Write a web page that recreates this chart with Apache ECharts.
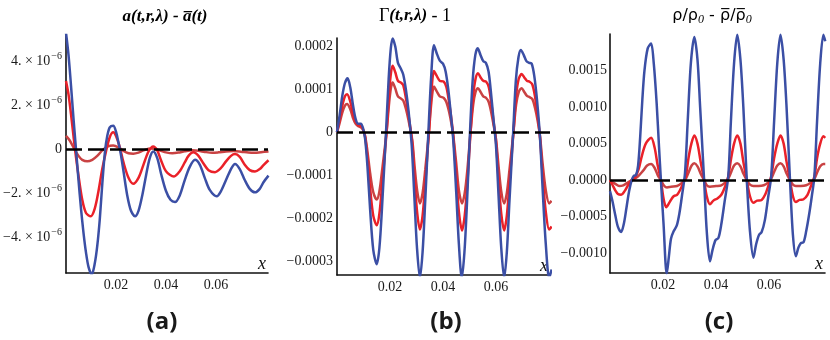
<!DOCTYPE html>
<html><head><meta charset="utf-8">
<script src="https://cdn.jsdelivr.net/npm/echarts@6/dist/echarts.min.js"></script>
<style>html,body{margin:0;padding:0;background:#fff}#c{width:830px;height:340px}</style>
</head><body><div id="c"></div>
<script>
// ---------- tick labels ----------
const xTicks = [0.02, 0.04, 0.06];
const aYTicks = [-4e-6, -2e-6, 0, 2e-6, 4e-6];
const bYTicks = [-0.0003, -0.0002, -0.0001, 0, 0.0001, 0.0002];
const cYTicks = [-0.001, -0.0005, 0, 0.0005, 0.001, 0.0015];

// ---------- panel (a): values in units of 1e-6 ----------
const aUnit = 1e-6;
const aBlue = [[0,5.3],[0.001,4.3],[0.002,2.9],[0.003,1.4],[0.004,0],[0.005,-1.4],[0.006,-2.7],[0.007,-3.8],[0.008,-4.7],[0.009,-5.35],[0.0103,-5.7],[0.0115,-5.2],[0.0125,-4.4],[0.0135,-3.2],[0.0145,-1.6],[0.0156,-0.1],[0.0165,0.6],[0.0175,1.0],[0.0189,1.07],[0.020,0.8],[0.021,0.3],[0.0219,-0.2],[0.023,-1.0],[0.0245,-2.1],[0.026,-2.8],[0.0276,-3.05],[0.029,-2.8],[0.0305,-2.1],[0.032,-1.2],[0.0335,-0.4],[0.0349,-0.1],[0.0365,-0.4],[0.038,-1.1],[0.040,-1.9],[0.0418,-2.3],[0.0436,-2.4],[0.0455,-2.1],[0.0475,-1.4],[0.0495,-0.8],[0.0516,-0.48],[0.0535,-0.7],[0.0555,-1.3],[0.0575,-1.85],[0.0603,-2.14],[0.062,-1.9],[0.064,-1.4],[0.066,-0.9],[0.0676,-0.67],[0.0695,-0.9],[0.0715,-1.4],[0.0735,-1.8],[0.0756,-1.96],[0.0775,-1.8],[0.079,-1.5],[0.081,-1.2]];
const aRed = [[0,3.11],[0.001,2.5],[0.002,1.6],[0.003,0.6],[0.0036,0],[0.005,-1.2],[0.0065,-2.3],[0.008,-2.9],[0.0099,-3.05],[0.0115,-2.7],[0.013,-1.9],[0.0145,-0.9],[0.016,-0.1],[0.0175,0.55],[0.0189,0.77],[0.020,0.6],[0.0215,0.1],[0.023,-0.6],[0.025,-1.3],[0.0269,-1.57],[0.029,-1.3],[0.031,-0.7],[0.033,-0.1],[0.0349,0.13],[0.0365,-0.05],[0.038,-0.5],[0.040,-1.0],[0.0432,-1.24],[0.0455,-1.0],[0.0475,-0.6],[0.049,-0.3],[0.0509,-0.14],[0.053,-0.3],[0.055,-0.65],[0.057,-0.95],[0.0596,-1.04],[0.062,-0.85],[0.064,-0.55],[0.066,-0.3],[0.0676,-0.22],[0.0695,-0.35],[0.0715,-0.7],[0.0735,-0.95],[0.0756,-1.01],[0.0775,-0.9],[0.079,-0.72],[0.081,-0.5]];
const aDark = [[0,0.61],[0.0015,0.4],[0.0034,0],[0.005,-0.3],[0.0065,-0.48],[0.0085,-0.55],[0.0105,-0.48],[0.0125,-0.3],[0.0145,-0.05],[0.0165,0.12],[0.0189,0.17],[0.021,0.08],[0.023,-0.08],[0.025,-0.18],[0.0269,-0.2],[0.029,-0.15],[0.031,-0.05],[0.033,0.02],[0.0344,0.04],[0.036,0.0],[0.038,-0.07],[0.040,-0.14],[0.0425,-0.18],[0.045,-0.15],[0.0475,-0.09],[0.0505,-0.05],[0.053,-0.07],[0.0555,-0.12],[0.0585,-0.16],[0.061,-0.14],[0.064,-0.1],[0.067,-0.08],[0.070,-0.11],[0.073,-0.15],[0.0755,-0.16],[0.078,-0.13],[0.081,-0.1]];

// ---------- panel (b): values in units of 1e-4 ----------
const bUnit = 1e-4;
const bBlue = [[0,0],[0.001,0.4],[0.002,0.85],[0.003,1.15],[0.004,1.26],[0.005,1.05],[0.006,0.65],[0.007,0.32],[0.008,0.2],[0.009,0.2],[0.0098,0.1],[0.0106,-0.15],[0.0115,-0.8],[0.0125,-1.8],[0.0137,-2.75],[0.015,-3.08],[0.016,-2.7],[0.017,-1.75],[0.0185,0],[0.0195,1.25],[0.0203,1.95],[0.021,2.19],[0.022,2.0],[0.023,1.62],[0.0242,1.47],[0.025,1.35],[0.026,1.0],[0.027,0.5],[0.0282,-0.3],[0.0292,-1.5],[0.0302,-2.7],[0.0313,-3.4],[0.0323,-2.8],[0.0333,-1.6],[0.0345,0],[0.0355,1.25],[0.0366,2.03],[0.0376,1.85],[0.0388,1.67],[0.040,1.6],[0.041,1.42],[0.042,1.0],[0.043,0.4],[0.0439,-0.2],[0.045,-1.4],[0.046,-2.6],[0.0471,-3.4],[0.0481,-2.8],[0.0491,-1.6],[0.0502,0],[0.0512,1.2],[0.0522,1.8],[0.0531,1.96],[0.0542,1.8],[0.0552,1.66],[0.0562,1.62],[0.0572,1.42],[0.058,1.0],[0.059,0.35],[0.060,-0.3],[0.061,-1.5],[0.062,-2.7],[0.0631,-3.4],[0.0641,-2.8],[0.0651,-1.6],[0.0665,0],[0.0675,1.2],[0.0685,1.75],[0.0694,1.92],[0.0705,1.8],[0.0715,1.66],[0.0725,1.62],[0.0735,1.6],[0.0745,1.3],[0.0755,0.75],[0.0766,-0.1],[0.0776,-1.3],[0.0788,-2.6],[0.0801,-3.4],[0.081,-3.2]];
const bRed = [[0,0],[0.001,0.3],[0.002,0.62],[0.003,0.84],[0.0038,0.89],[0.005,0.72],[0.006,0.45],[0.007,0.25],[0.008,0.17],[0.009,0.15],[0.0098,0.08],[0.0106,-0.1],[0.0115,-0.6],[0.0125,-1.3],[0.0137,-1.95],[0.015,-2.17],[0.016,-1.9],[0.017,-1.25],[0.0187,0],[0.0197,0.95],[0.0204,1.4],[0.021,1.55],[0.022,1.4],[0.023,1.2],[0.0243,1.15],[0.025,1.1],[0.026,0.8],[0.027,0.4],[0.0284,-0.25],[0.0293,-1.1],[0.0303,-1.9],[0.0313,-2.27],[0.0323,-1.95],[0.0333,-1.2],[0.0347,0],[0.0356,0.9],[0.0366,1.43],[0.0376,1.32],[0.0388,1.2],[0.0403,1.18],[0.0413,1.05],[0.0423,0.7],[0.0432,0.3],[0.0439,-0.1],[0.045,-1.0],[0.046,-1.85],[0.0472,-2.29],[0.0482,-1.95],[0.0492,-1.2],[0.0504,0],[0.0514,0.85],[0.0523,1.25],[0.0532,1.38],[0.0542,1.28],[0.0552,1.2],[0.0563,1.18],[0.0573,1.05],[0.0582,0.7],[0.0591,0.25],[0.060,-0.2],[0.061,-1.1],[0.062,-1.9],[0.0631,-2.29],[0.0641,-1.95],[0.0651,-1.2],[0.0666,0],[0.0676,0.85],[0.0686,1.25],[0.0697,1.36],[0.0707,1.28],[0.0717,1.2],[0.0727,1.18],[0.0737,1.12],[0.0747,0.85],[0.0757,0.4],[0.0766,-0.1],[0.0776,-1.0],[0.0788,-1.85],[0.0801,-2.27],[0.081,-2.2]];
const bDark = [[0,0],[0.001,0.22],[0.002,0.46],[0.003,0.62],[0.0038,0.66],[0.005,0.54],[0.006,0.34],[0.007,0.2],[0.008,0.14],[0.009,0.12],[0.0098,0.06],[0.0106,-0.08],[0.0115,-0.45],[0.0125,-0.95],[0.0137,-1.4],[0.015,-1.57],[0.016,-1.38],[0.017,-0.9],[0.0187,0],[0.0197,0.7],[0.0204,1.05],[0.021,1.16],[0.022,1.02],[0.023,0.84],[0.0243,0.78],[0.025,0.74],[0.026,0.55],[0.027,0.28],[0.0284,-0.18],[0.0293,-0.8],[0.0303,-1.38],[0.0313,-1.66],[0.0323,-1.42],[0.0333,-0.88],[0.0347,0],[0.0356,0.68],[0.0366,1.07],[0.0376,0.96],[0.0388,0.84],[0.0403,0.8],[0.0413,0.7],[0.0423,0.48],[0.0432,0.2],[0.0439,-0.08],[0.045,-0.72],[0.046,-1.35],[0.0472,-1.66],[0.0482,-1.42],[0.0492,-0.88],[0.0504,0],[0.0514,0.64],[0.0523,0.94],[0.0532,1.03],[0.0542,0.94],[0.0552,0.84],[0.0563,0.8],[0.0573,0.7],[0.0582,0.47],[0.0591,0.17],[0.060,-0.15],[0.061,-0.8],[0.062,-1.38],[0.0631,-1.66],[0.0641,-1.42],[0.0651,-0.88],[0.0666,0],[0.0676,0.64],[0.0686,0.94],[0.0697,1.03],[0.0707,0.94],[0.0717,0.85],[0.0727,0.82],[0.0737,0.78],[0.0747,0.58],[0.0757,0.28],[0.0766,-0.08],[0.0776,-0.72],[0.0788,-1.35],[0.0801,-1.66],[0.081,-1.6]];

// ---------- panel (c): values in units of 1e-3 ----------
const cUnit = 1e-3;
const cBlue = [[0,-0.15],[0.001,-0.3],[0.002,-0.48],[0.003,-0.64],[0.0042,-0.71],[0.0052,-0.6],[0.0062,-0.38],[0.0072,-0.15],[0.0082,0],[0.009,0.06],[0.0098,0.07],[0.0106,0.2],[0.0114,0.6],[0.0122,1.1],[0.013,1.5],[0.0142,1.8],[0.0155,1.87],[0.0165,1.6],[0.0176,1.05],[0.0185,0.45],[0.0192,0],[0.0202,-0.6],[0.0214,-1.28],[0.0222,-1.05],[0.023,-0.8],[0.024,-0.7],[0.0252,-0.62],[0.0262,-0.45],[0.0272,-0.2],[0.0283,0.1],[0.0293,0.8],[0.0305,1.6],[0.0318,1.96],[0.033,1.65],[0.034,1.0],[0.0355,0],[0.0365,-0.7],[0.0377,-1.11],[0.0387,-0.95],[0.0398,-0.82],[0.0409,-0.79],[0.042,-0.6],[0.0432,-0.3],[0.0446,0.05],[0.0456,0.8],[0.0468,1.6],[0.048,1.99],[0.0492,1.65],[0.0503,1.0],[0.0516,0],[0.0528,-0.7],[0.0541,-1.06],[0.0551,-0.88],[0.0562,-0.75],[0.0572,-0.71],[0.0584,-0.55],[0.0596,-0.25],[0.0608,0.05],[0.0619,0.8],[0.0631,1.6],[0.0643,1.99],[0.0655,1.65],[0.0666,1.0],[0.0679,0],[0.069,-0.75],[0.0701,-1.04],[0.0711,-0.92],[0.072,-0.86],[0.073,-0.85],[0.074,-0.7],[0.0752,-0.45],[0.0762,-0.2],[0.0771,0.05],[0.0781,0.8],[0.0793,1.6],[0.0805,1.99],[0.0812,1.9]];
const cRed = [[0,0],[0.001,-0.07],[0.002,-0.14],[0.003,-0.19],[0.0042,-0.2],[0.0055,-0.15],[0.0068,-0.07],[0.0082,0],[0.0095,0.04],[0.0108,0.15],[0.012,0.33],[0.0135,0.5],[0.0155,0.58],[0.0168,0.45],[0.018,0.2],[0.0192,0],[0.0202,-0.25],[0.0212,-0.37],[0.0225,-0.3],[0.024,-0.22],[0.0253,-0.2],[0.0265,-0.13],[0.0277,-0.03],[0.0286,0.05],[0.0296,0.3],[0.0307,0.5],[0.0318,0.61],[0.033,0.5],[0.0342,0.25],[0.0355,0],[0.0365,-0.22],[0.0377,-0.33],[0.039,-0.28],[0.0405,-0.25],[0.042,-0.2],[0.0435,-0.08],[0.0446,0.05],[0.0457,0.3],[0.0468,0.5],[0.048,0.61],[0.0492,0.5],[0.0503,0.25],[0.0516,0],[0.0528,-0.22],[0.0541,-0.31],[0.0555,-0.28],[0.0572,-0.27],[0.0585,-0.2],[0.0597,-0.08],[0.0608,0.05],[0.0619,0.3],[0.0631,0.5],[0.0643,0.61],[0.0655,0.5],[0.0666,0.25],[0.0679,0],[0.069,-0.22],[0.0701,-0.3],[0.0715,-0.27],[0.073,-0.26],[0.0745,-0.2],[0.0758,-0.08],[0.0771,0.05],[0.0781,0.3],[0.0793,0.5],[0.0805,0.6],[0.0812,0.58]];
const cDark = [[0,0],[0.002,-0.05],[0.0035,-0.08],[0.005,-0.07],[0.0068,-0.03],[0.0082,0],[0.0105,0.05],[0.0125,0.13],[0.014,0.2],[0.0155,0.22],[0.0168,0.17],[0.018,0.07],[0.0192,0],[0.0205,-0.08],[0.0215,-0.1],[0.023,-0.09],[0.0253,-0.08],[0.027,-0.04],[0.0286,0.02],[0.0298,0.12],[0.0308,0.2],[0.0318,0.23],[0.033,0.19],[0.0342,0.09],[0.0355,0],[0.0365,-0.07],[0.0377,-0.09],[0.04,-0.08],[0.042,-0.07],[0.0435,-0.03],[0.0446,0.02],[0.0458,0.12],[0.0468,0.2],[0.048,0.23],[0.0492,0.19],[0.0503,0.09],[0.0516,0],[0.0528,-0.06],[0.0541,-0.08],[0.056,-0.08],[0.058,-0.07],[0.0597,-0.03],[0.0608,0.02],[0.062,0.12],[0.0631,0.2],[0.0643,0.23],[0.0655,0.19],[0.0666,0.09],[0.0679,0],[0.069,-0.06],[0.0701,-0.08],[0.072,-0.08],[0.074,-0.07],[0.0758,-0.03],[0.0771,0.02],[0.0783,0.12],[0.0793,0.19],[0.0805,0.22],[0.0812,0.22]];

// ---------- rendering ----------
const serif = '"Liberation Serif","DejaVu Serif",serif';
const sans = '"DejaVu Sans","Noto Sans",sans-serif';
const BLUE = '#3b4fa5', RED = '#ea2129', DARK = '#c94243';
const chart = echarts.init(document.getElementById('c'), null, {renderer: 'canvas'});

const grids = [
  {left: 66, top: 35, width: 202, height: 238},
  {left: 337, top: 38, width: 213, height: 237},
  {left: 610, top: 34, width: 215, height: 239}
];
const xMax = [0.0808, 0.0804, 0.0811];
const yRange = [[-5.63e-6, 5.2e-6], [-3.33e-4, 2.2e-4], [-0.00127, 0.002]];
const yTickSets = [aYTicks, bYTicks, cYTicks];
const yMargins = [4, 4, 3];

function fmtA(v) {
  if (Math.abs(v) < 1e-12) return '0';
  const m = Math.round(v / 1e-6);
  return (m < 0 ? '\u2212' : '') + Math.abs(m) + '. \u00d7 10{s|\u22126}';
}
function fmtB(v) {
  if (Math.abs(v) < 1e-12) return '0';
  return (v < 0 ? '\u2212' : '') + Math.abs(v).toFixed(4);
}
function fmtC(v) {
  if (Math.abs(v) < 1e-12) return '0.0000';
  return (v < 0 ? '\u2212' : '') + Math.abs(v).toFixed(4);
}
const fmts = [fmtA, fmtB, fmtC];

const xAxes = grids.map((g, i) => ({
  type: 'value', gridIndex: i, min: 0, max: xMax[i],
  axisLine: {show: true, onZero: false, lineStyle: {color: '#111', width: 1.6}},
  axisTick: {show: false}, splitLine: {show: false},
  axisLabel: {customValues: xTicks, margin: 5, fontFamily: serif, fontSize: 14, color: '#1a1a1a',
    formatter: v => v.toFixed(2)},
  name: 'x', nameLocation: 'end', nameGap: 0,
  nameTextStyle: {fontFamily: serif, fontStyle: 'italic', fontSize: 18, color: '#111', align: 'right', verticalAlign: 'bottom', padding: [0, 2, 0, 0]}
}));
const yAxes = grids.map((g, i) => ({
  type: 'value', gridIndex: i, min: yRange[i][0], max: yRange[i][1],
  axisLine: {show: true, onZero: false, lineStyle: {color: '#111', width: 1.6}},
  axisTick: {show: false}, splitLine: {show: false},
  axisLabel: {customValues: yTickSets[i], margin: yMargins[i], fontFamily: serif, fontSize: 14, color: '#1a1a1a',
    formatter: fmts[i],
    rich: {s: {fontFamily: serif, fontSize: 10, color: '#1a1a1a', padding: [0, 0, 9, 1]}}}
}));

function ser(pts, unit, color, idx, z) {
  return {type: 'line', xAxisIndex: idx, yAxisIndex: idx, z: z,
    data: pts.map(p => [p[0], p[1] * unit]), smooth: 0.3, symbol: 'none', showSymbol: false,
    clip: true, lineStyle: {color: color, width: 2.5}, animation: false, silent: true};
}
function zeroLine(idx) {
  return {type: 'line', xAxisIndex: idx, yAxisIndex: idx, data: [], z: 10, silent: true,
    markLine: {silent: true, symbol: 'none', animation: false, label: {show: false},
      lineStyle: {color: '#000', width: 2.7, type: [16, 6]}, data: [{yAxis: 0}]}};
}

const series = [
  ser(aDark, aUnit, DARK, 0, 2), ser(aRed, aUnit, RED, 0, 3), ser(aBlue, aUnit, BLUE, 0, 4), zeroLine(0),
  ser(bDark, bUnit, DARK, 1, 2), ser(bRed, bUnit, RED, 1, 3), ser(bBlue, bUnit, BLUE, 1, 4), zeroLine(1),
  ser(cDark, cUnit, DARK, 2, 2), ser(cRed, cUnit, RED, 2, 3), ser(cBlue, cUnit, BLUE, 2, 4), zeroLine(2)
];

const graphic = [
  {type: 'text', x: 165, y: 17, style: {text: '{i|a(t,r,\u03bb) - a\u0305(t)}', align: 'center', verticalAlign: 'middle',
    rich: {i: {fontFamily: serif, fontSize: 17, fontWeight: 'bold', fontStyle: 'italic', color: '#1a1a1a'}}}},
  {type: 'text', x: 415, y: 16, style: {text: '{g|\u0393}{i|(t,r,\u03bb)}{g| - 1}', align: 'center', verticalAlign: 'middle',
    rich: {g: {fontFamily: serif, fontSize: 18, color: '#1a1a1a'}, i: {fontFamily: serif, fontSize: 17, fontWeight: 'bold', fontStyle: 'italic', color: '#1a1a1a'}}}},
  {type: 'text', x: 712, y: 16, style: {text: '{n|\u03c1/\u03c1}{s|0}{n| - \u03c1\u0305/\u03c1\u0305}{s|0}', align: 'center', verticalAlign: 'middle',
    rich: {n: {fontFamily: sans, fontSize: 16, color: '#1a1a1a'}, s: {fontFamily: serif, fontSize: 12, fontStyle: 'italic', color: '#1a1a1a', padding: [7, 0, 0, 0]}}}},
  {type: 'text', x: 162, y: 322, style: {text: '(a)', align: 'center', verticalAlign: 'middle', font: 'bold 24px "Open Sans", sans-serif', fill: '#1a1a1a'}},
  {type: 'text', x: 446, y: 322, style: {text: '(b)', align: 'center', verticalAlign: 'middle', font: 'bold 24px "Open Sans", sans-serif', fill: '#1a1a1a'}},
  {type: 'text', x: 719, y: 322, style: {text: '(c)', align: 'center', verticalAlign: 'middle', font: 'bold 24px "Open Sans", sans-serif', fill: '#1a1a1a'}}
];

chart.setOption({
  animation: false,
  backgroundColor: '#ffffff',
  grid: grids,
  xAxis: xAxes,
  yAxis: yAxes,
  series: series,
  graphic: graphic
});
</script>
</body></html>
